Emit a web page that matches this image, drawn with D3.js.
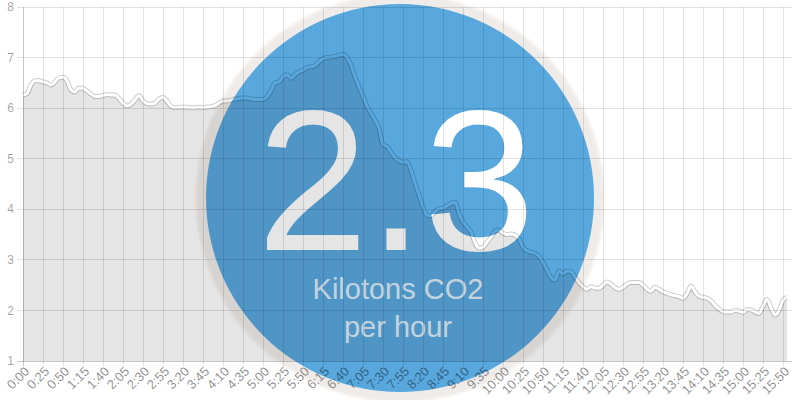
<!DOCTYPE html>
<html>
<head>
<meta charset="utf-8">
<script src="https://cdn.jsdelivr.net/npm/d3@7"></script>
<style>
  html, body { margin: 0; padding: 0; background: #fff; }
  svg { display: block; font-family: "Liberation Sans", Arial, sans-serif; }
</style>
</head>
<body>
<div id="chart"></div>
<script>
// CO2 output in kilotons per hour, one reading every 5 minutes from 0:00 to 15:55
var co2 = [
  6.26, 6.29, 6.46, 6.54, 6.54, 6.52, 6.50, 6.46, 6.52, 6.60,
  6.61, 6.54, 6.36, 6.32, 6.40, 6.39, 6.34, 6.28, 6.23, 6.23,
  6.25, 6.27, 6.26, 6.26, 6.19, 6.10, 6.04, 6.08, 6.16, 6.25,
  6.14, 6.09, 6.08, 6.10, 6.18, 6.21, 6.14, 6.04, 6.01, 6.02,
  6.02, 6.02, 6.01, 6.01, 6.02, 6.01, 6.02, 6.03, 6.05, 6.10,
  6.14, 6.14, 6.16, 6.18, 6.19, 6.20, 6.20, 6.18, 6.17, 6.17,
  6.17, 6.22, 6.35, 6.50, 6.52, 6.62, 6.66, 6.59, 6.66, 6.72,
  6.75, 6.80, 6.82, 6.84, 6.92, 6.98, 7.00, 7.01, 7.02, 7.05,
  7.06, 7.00, 6.85, 6.62, 6.42, 6.23, 6.04, 5.90, 5.76, 5.60,
  5.28, 5.24, 5.13, 5.02, 4.96, 4.93, 4.94, 4.77, 4.51, 4.28,
  4.05, 3.88, 3.87, 3.95, 4.01, 4.02, 4.07, 4.11, 4.14, 3.92,
  3.75, 3.65, 3.55, 3.34, 3.23, 3.25, 3.35, 3.45, 3.57, 3.59,
  3.53, 3.50, 3.51, 3.49, 3.42, 3.25, 3.18, 3.15, 3.13, 3.07,
  2.95, 2.80, 2.65, 2.60, 2.78, 2.72, 2.78, 2.77, 2.66, 2.55,
  2.47, 2.42, 2.47, 2.44, 2.44, 2.50, 2.56, 2.52, 2.45, 2.42,
  2.46, 2.52, 2.55, 2.55, 2.55, 2.50, 2.42, 2.38, 2.46, 2.42,
  2.37, 2.34, 2.31, 2.29, 2.27, 2.24, 2.33, 2.48, 2.37, 2.28,
  2.26, 2.24, 2.19, 2.10, 2.03, 1.98, 1.97, 1.97, 2.00, 1.99,
  1.96, 2.02, 2.01, 1.97, 1.94, 2.08, 2.22, 2.05, 1.91, 2.00,
  2.20, 2.26
];

// one label every 5th reading (25 minutes)
var timeLabels = [
  "0:00", "0:25", "0:50", "1:15", "1:40", "2:05", "2:30", "2:55", "3:20", "3:45",
  "4:10", "4:35", "5:00", "5:25", "5:50", "6:15", "6:40", "7:05", "7:30", "7:55",
  "8:20", "8:45", "9:10", "9:35", "10:00", "10:25", "10:50", "11:15", "11:40", "12:05",
  "12:30", "12:55", "13:20", "13:45", "14:10", "14:35", "15:00", "15:25", "15:50"
];
var labelStep = 5;

var yTicks = [1, 2, 3, 4, 5, 6, 7, 8];

var currentValue = "2.3";
var unitLines = ["Kilotons CO2", "per hour"];

var width = 800,
    height = 400,
    plotLeft = 23,
    plotRight = 787,
    plotTop = 7,
    plotBottom = 361;

var svg = d3.select("#chart").append("svg")
    .attr("width", width)
    .attr("height", height);

// scales
var x = d3.scaleLinear()
    .domain([0, co2.length - 1])
    .range([plotLeft, plotRight]);

var y = d3.scaleLinear()
    .domain([1, 8])
    .range([plotBottom, plotTop]);

var curve = d3.curveMonotoneX;

var line = d3.line()
    .x(function(d, i) { return x(i); })
    .y(function(d) { return y(d); })
    .curve(curve);

var area = d3.area()
    .x(function(d, i) { return x(i); })
    .y0(y(1))
    .y1(function(d) { return y(d); })
    .curve(curve);

//the big badge sits under the chart, chart marks are see-through
var cx = 400, cy = 198, r = 194;

var defs = svg.append("defs");

defs.append("filter")
    .attr("id", "soft")
    .attr("x", "-10%").attr("y", "-10%")
    .attr("width", "120%").attr("height", "120%")
    .append("feGaussianBlur")
    .attr("stdDeviation", 1.5);

svg.append("circle")
    .attr("cx", cx).attr("cy", cy).attr("r", r + 10)
    .attr("fill", "#efebe8")
    .attr("filter", "url(#soft)");

svg.append("circle")
    .attr("cx", cx).attr("cy", cy).attr("r", r)
    .attr("fill", "#58a8de");

svg.append("text")
    .attr("x", 396)
    .attr("y", 250)
    .attr("text-anchor", "middle")
    .attr("font-size", 200)
    .attr("fill", "#fff")
    .text(currentValue);

svg.selectAll(".unit")
    .data(unitLines)
    .enter().append("text")
    .attr("class", "unit")
    .attr("x", 398)
    .attr("y", function(d, i) { return 299 + i * 38; })
    .attr("text-anchor", "middle")
    .attr("font-size", 29)
    .attr("fill", "rgba(255,255,255,0.8)")
    .text(function(d) { return d; });

// mask that cuts the hollow middle out of the line
var mask = defs.append("mask")
    .attr("id", "lineGap")
    .attr("maskUnits", "userSpaceOnUse")
    .attr("x", 0).attr("y", 0)
    .attr("width", width).attr("height", height);

mask.append("rect")
    .attr("width", width)
    .attr("height", height)
    .attr("fill", "white");

mask.append("path")
    .datum(co2)
    .attr("d", line)
    .attr("fill", "none")
    .attr("stroke", "black")
    .attr("stroke-width", 3);

var chart = svg.append("g");

// grid
chart.selectAll(".hgrid")
    .data(yTicks)
    .enter().append("line")
    .attr("class", "hgrid")
    .attr("x1", plotLeft - 6)
    .attr("x2", plotRight + 5)
    .attr("y1", function(d) { return y(d); })
    .attr("y2", function(d) { return y(d); })
    .attr("stroke", function(d) { return d == 1 ? "rgba(0,0,0,0.22)" : "rgba(0,0,0,0.11)"; })
    .attr("stroke-width", 1)
    .attr("shape-rendering", "crispEdges");

chart.selectAll(".vgrid")
    .data(timeLabels)
    .enter().append("line")
    .attr("class", "vgrid")
    .attr("x1", function(d, i) { return x(i * labelStep); })
    .attr("x2", function(d, i) { return x(i * labelStep); })
    .attr("y1", plotTop)
    .attr("y2", plotBottom + 5)
    .attr("stroke", function(d, i) { return i == 0 ? "rgba(0,0,0,0.22)" : "rgba(0,0,0,0.11)"; })
    .attr("stroke-width", 1)
    .attr("shape-rendering", "crispEdges");

// area + outlined line
var marks = chart.append("g").attr("mask", "url(#lineGap)");

marks.append("path")
    .datum(co2)
    .attr("d", area)
    .attr("fill", "rgba(0,0,0,0.1)");

marks.append("path")
    .datum(co2)
    .attr("d", line)
    .attr("fill", "none")
    .attr("stroke", "rgba(0,0,0,0.2)")
    .attr("stroke-width", 5);

// labels
chart.selectAll(".ylab")
    .data(yTicks)
    .enter().append("text")
    .attr("class", "ylab")
    .attr("x", 14)
    .attr("y", function(d) { return y(d); })
    .attr("dy", "0.35em")
    .attr("text-anchor", "end")
    .attr("font-size", 12)
    .attr("fill", "rgba(0,0,0,0.38)")
    .text(function(d) { return d; });

chart.selectAll(".xlab")
    .data(timeLabels)
    .enter().append("text")
    .attr("class", "xlab")
    .attr("transform", function(d, i) {
        return "translate(" + (x(i * labelStep) + 4) + "," + 369 + ") rotate(-45)";
    })
    .attr("dy", "0.35em")
    .attr("text-anchor", "end")
    .attr("font-size", 13)
    .attr("fill", "rgba(0,0,0,0.45)")
    .text(function(d) { return d; });
</script>
</body>
</html>
